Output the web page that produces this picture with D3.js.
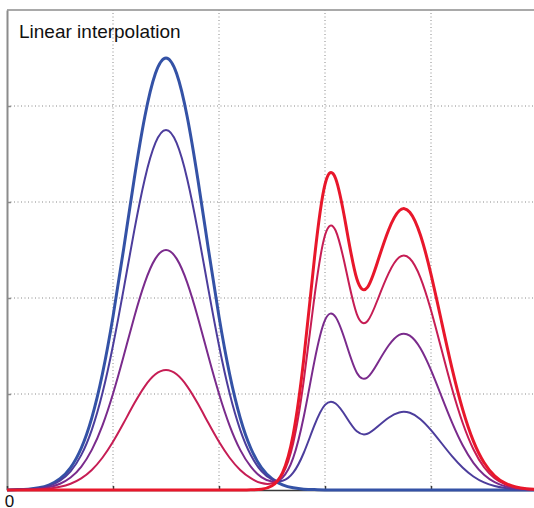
<!DOCTYPE html>
<html>
<head>
<meta charset="utf-8">
<script src="https://cdn.jsdelivr.net/npm/d3@7"></script>
<style>
  body { margin: 0; background: #fff; }
  svg { display: block; font-family: "Liberation Sans", Arial, sans-serif; }
</style>
</head>
<body>
<div id="chart"></div>
<script>
// x positions of the samples: 0, 0.1, ... 5
const xs = d3.range(51).map(i => i / 10);

// values, one per x sample
const blueCurve = [0.001, 0.004, 0.009, 0.023, 0.054, 0.117, 0.234, 0.435, 0.752, 1.208,
  1.806, 2.508, 3.239, 3.888, 4.338, 4.500, 4.338, 3.888, 3.239, 2.508,
  1.806, 1.208, 0.752, 0.435, 0.234, 0.117, 0.054, 0.023, 0.009, 0.004,
  0.001, 0, 0, 0, 0, 0, 0, 0, 0, 0,
  0, 0, 0, 0, 0, 0, 0, 0, 0, 0, 0];

const blueVioletCurve = [0.001, 0.003, 0.008, 0.019, 0.045, 0.098, 0.195, 0.363, 0.627, 1.007,
  1.505, 2.090, 2.699, 3.240, 3.615, 3.750, 3.615, 3.240, 2.699, 2.090,
  1.505, 1.007, 0.627, 0.364, 0.197, 0.110, 0.096, 0.180, 0.388, 0.672,
  0.886, 0.901, 0.761, 0.611, 0.586, 0.664, 0.753, 0.808, 0.804, 0.738,
  0.624, 0.487, 0.350, 0.232, 0.141, 0.079, 0.041, 0.020, 0.009, 0.004, 0.001];

const purpleCurve = [0.001, 0.002, 0.005, 0.013, 0.030, 0.065, 0.130, 0.242, 0.418, 0.671,
  1.003, 1.393, 1.800, 2.160, 2.410, 2.500, 2.410, 2.160, 1.800, 1.393,
  1.003, 0.671, 0.418, 0.243, 0.134, 0.089, 0.131, 0.334, 0.765, 1.340,
  1.770, 1.802, 1.523, 1.222, 1.172, 1.328, 1.505, 1.616, 1.608, 1.476,
  1.248, 0.973, 0.699, 0.463, 0.283, 0.159, 0.082, 0.039, 0.017, 0.007, 0.003];

const crimsonCurve = [0.000, 0.001, 0.003, 0.006, 0.015, 0.033, 0.065, 0.121, 0.209, 0.336,
  0.502, 0.697, 0.900, 1.080, 1.205, 1.250, 1.205, 1.080, 0.900, 0.697,
  0.502, 0.336, 0.209, 0.123, 0.072, 0.070, 0.167, 0.488, 1.142, 2.008,
  2.653, 2.703, 2.284, 1.833, 1.758, 1.992, 2.257, 2.424, 2.412, 2.213,
  1.872, 1.460, 1.049, 0.695, 0.424, 0.238, 0.123, 0.059, 0.026, 0.011, 0.004];

const redCurve = [0, 0, 0, 0, 0, 0, 0, 0, 0, 0,
  0, 0, 0, 0, 0, 0, 0, 0, 0, 0,
  0, 0, 0, 0.002, 0.008, 0.044, 0.182, 0.578, 1.367, 2.409,
  3.184, 3.244, 2.741, 2.200, 2.110, 2.390, 2.709, 2.909, 2.894, 2.656,
  2.247, 1.752, 1.259, 0.834, 0.509, 0.286, 0.148, 0.071, 0.031, 0.013, 0.005];

const xTicks = [0, 1, 2, 3, 4, 5];
const xTickLabels = ['0', '', '', '', '', '1'];
const yTicks = [1, 2, 3, 4];
const title = 'Linear interpolation';

// drawing order: blue first, red last (on top)
const curves = [blueCurve, blueVioletCurve, purpleCurve, crimsonCurve, redCurve];
const curveColors = ['#3452a6', '#4c3d9c', '#7a2b8c', '#c61d54', '#e8172b'];
const curveWidths = [3, 2, 2, 2, 3];

const width = 534, height = 508;
// margin -> [top, bottom, left, right]; the right border falls just off the page
const margin = [10, 18, 7, -3];

const svg = d3.select('#chart').append('svg')
  .attr('width', width).attr('height', height);

const x = d3.scaleLinear([0, 5], [margin[2], width - margin[3]]);
const y = d3.scaleLinear([0, 5], [height - margin[1], margin[0]]);

// dotted grid
const grid = svg.append('g')
  .attr('stroke', '#888').attr('stroke-width', 1).attr('stroke-dasharray', '1,2.5');
grid.selectAll('line.vx').data(yTicks).join('line')
  .attr('x1', d => x(d)).attr('x2', d => x(d))
  .attr('y1', y(0)).attr('y2', y(5));
grid.selectAll('line.hy').data(yTicks).join('line')
  .attr('y1', d => y(d)).attr('y2', d => y(d))
  .attr('x1', x(0)).attr('x2', x(5));

// top border
svg.append('line')
  .attr('x1', x(0)).attr('x2', x(5)).attr('y1', y(5)).attr('y2', y(5))
  .attr('stroke', '#8c8c8c').attr('stroke-width', 1.5);

// left axis: grey, inward ticks, no labels
const axisY = svg.append('g')
  .attr('transform', `translate(${x(0)},0)`)
  .call(d3.axisLeft(y).tickValues(yTicks).tickSize(-4).tickSizeOuter(0).tickFormat(''));
axisY.select('.domain').attr('stroke', '#8c8c8c').attr('stroke-width', 2);
axisY.selectAll('.tick line').attr('stroke', '#8c8c8c').attr('stroke-width', 1.5);

// bottom axis
const axisX = svg.append('g')
  .attr('transform', `translate(0,${y(0)})`)
  .call(d3.axisBottom(x).tickValues(xTicks).tickSize(-4).tickSizeOuter(0)
    .tickFormat((d, i) => xTickLabels[i]));
axisX.select('.domain').attr('stroke', '#3a3a3a').attr('stroke-width', 1.5);
axisX.selectAll('.tick line').attr('stroke', '#3a3a3a').attr('stroke-width', 1.5);
axisX.selectAll('.tick text')
  .attr('y', 17).attr('dy', null).attr('dx', 2)
  .style('font-size', '17px')
  .style('font-family', '"Liberation Sans", Arial, sans-serif')
  .attr('fill', '#111');

// curves
const line = d3.line()
  .x((d, i) => x(xs[i]))
  .y(d => y(d))
  .curve(d3.curveNatural);

svg.append('g').selectAll('path.curve')
  .data(curves)
  .join('path')
  .classed('curve', true)
  .attr('d', line)
  .attr('fill', 'none')
  .attr('stroke', (d, i) => curveColors[i])
  .attr('stroke-width', (d, i) => curveWidths[i])
  .attr('stroke-linejoin', 'round');

svg.append('text')
  .attr('x', 19).attr('y', 38)
  .attr('font-size', 19).attr('fill', '#111')
  .text(title);
</script>
</body>
</html>
